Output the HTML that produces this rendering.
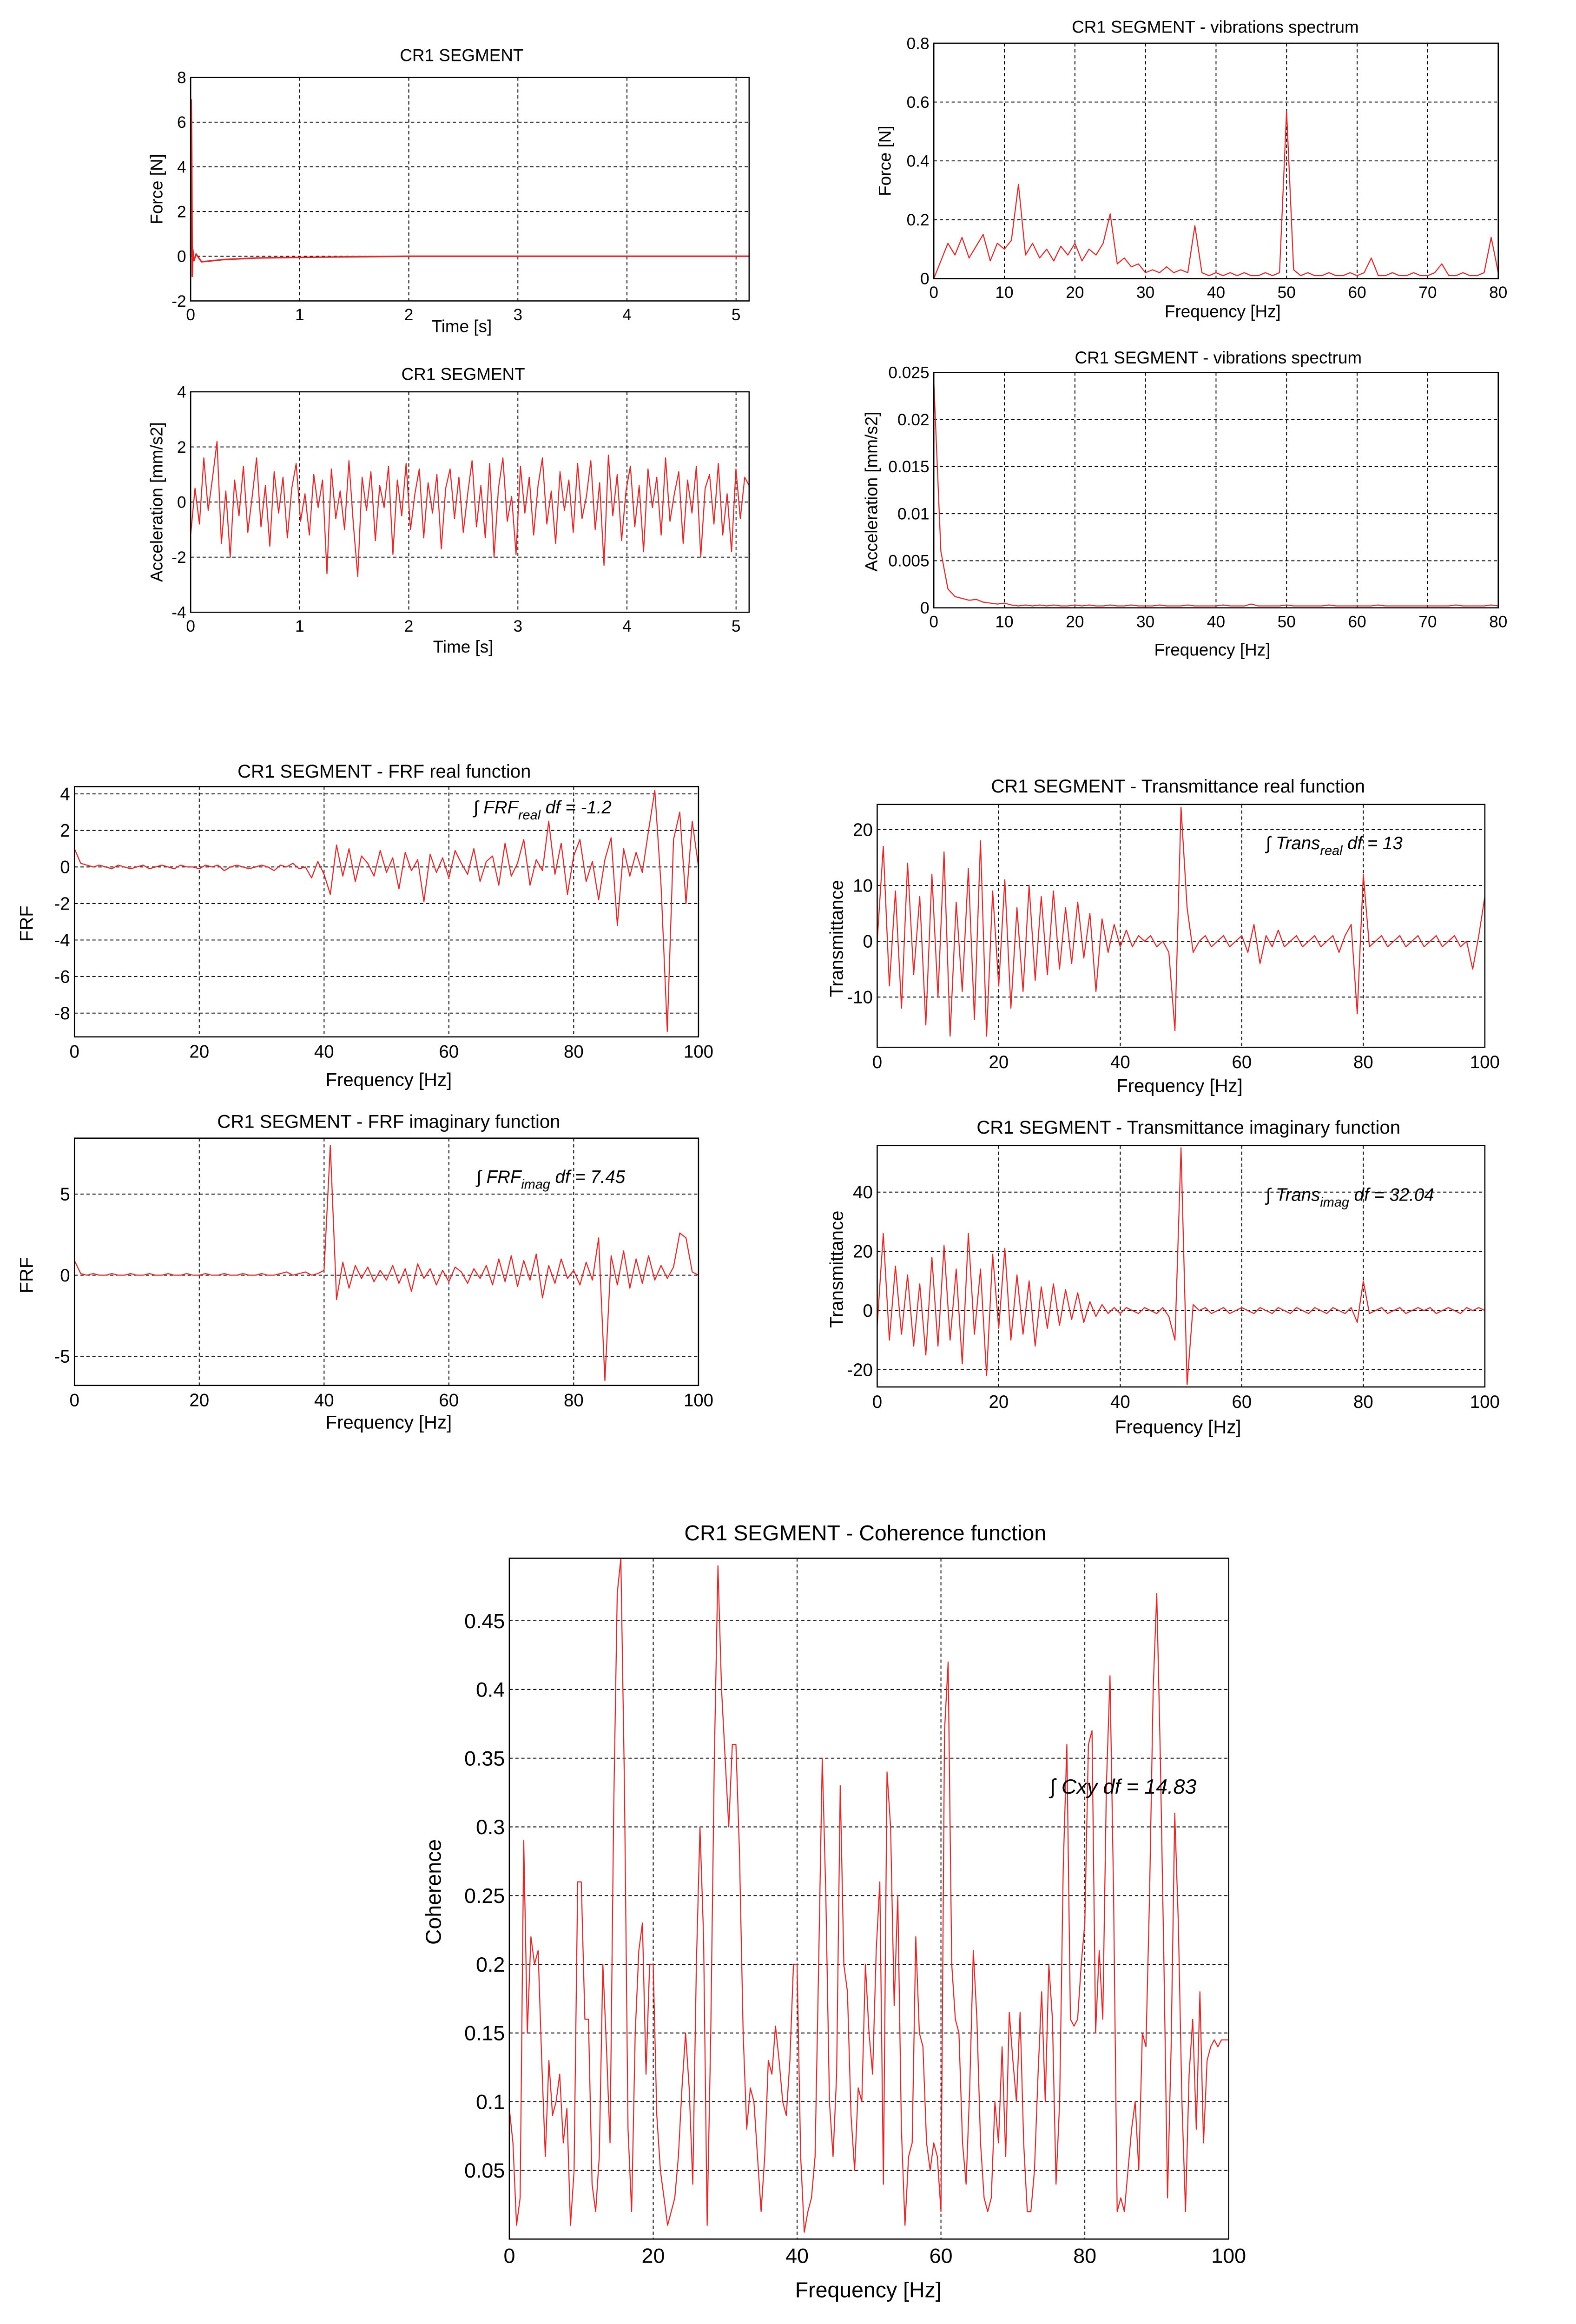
<!DOCTYPE html>
<html><head><meta charset="utf-8"><title>CR1 SEGMENT charts</title>
<style>
html,body{margin:0;padding:0;background:#fff;overflow:hidden;height:100vh;}
svg{display:block;position:absolute;left:0;top:0;height:100vh;width:calc(100vh * 3391 / 5167);}
text{font-family:"Liberation Sans",sans-serif;fill:#000;}
</style></head>
<body>
<svg id="fig" viewBox="0 0 1024 1560" preserveAspectRatio="none" xmlns="http://www.w3.org/2000/svg">
<rect x="0" y="0" width="1024" height="1560" fill="#fff"/>
</svg>
<script>
// ---- data ----
const forceT = [0,0.005,0.01,0.015,0.02,0.03,0.05,0.1,0.3,0.6,1,2,3,4,5.12];
const forceV = [0,7,4.8,-0.9,0.3,-0.2,0.1,-0.25,-0.15,-0.08,-0.05,0,0,0,0];
const accelV = [-1.2,0.5,-0.8,1.6,-0.3,0.9,2.2,-1.5,0.4,-2,0.8,-0.5,1.3,-1.1,0.2,1.6,-0.9,0.6,-1.6,1.1,-0.4,0.9,-1.3,0.5,1.4,-0.7,0.3,-1.2,1.0,-0.2,0.8,-2.6,1.2,-0.6,0.4,-1.0,1.5,-0.8,-2.7,0.9,-0.3,1.1,-1.4,0.6,-0.2,1.3,-1.9,0.8,-0.5,1.4,-1.0,0.3,1.2,-1.3,0.7,-0.4,1.0,-1.7,0.5,1.2,-0.6,0.9,-1.1,0.3,1.5,-0.9,0.6,-1.3,1.4,-2.0,0.5,1.6,-0.7,0.2,-1.9,1.3,-0.4,0.9,-1.2,0.6,1.6,-0.8,0.4,-1.5,1.1,-0.3,0.8,-1.1,1.4,-0.6,0.2,1.5,-1.0,0.7,-2.3,1.7,-0.5,1.0,-1.4,0.4,1.3,-0.9,0.6,-1.8,1.2,-0.2,0.9,-1.2,1.6,-0.7,0.3,1.1,-1.5,0.8,-0.4,1.3,-2.0,0.5,1.0,-0.8,1.4,-1.2,0.3,-1.8,1.2,-0.6,0.9,0.6];
const forceSpec = [0,0.06,0.12,0.08,0.14,0.07,0.11,0.15,0.06,0.12,0.1,
 0.13,0.32,0.08,0.12,0.07,0.1,0.06,0.11,0.08,0.12,
 0.06,0.1,0.08,0.12,0.22,0.05,0.07,0.04,0.05,0.02,
 0.03,0.02,0.04,0.02,0.03,0.02,0.18,0.02,0.01,0.02,
 0.01,0.02,0.01,0.02,0.01,0.01,0.02,0.01,0.02,0.57,
 0.03,0.01,0.02,0.01,0.01,0.02,0.01,0.01,0.02,0.01,
 0.02,0.07,0.01,0.01,0.02,0.01,0.01,0.02,0.01,0.01,
 0.02,0.05,0.01,0.01,0.02,0.01,0.01,0.02,0.14,0.02];
const accelSpec = [0.024,0.006,0.002,0.0012,0.001,0.0008,0.0009,0.0006,0.0005,0.0004,0.0005,
 0.0003,0.0002,0.0003,0.0002,0.0003,0.0002,0.0003,0.0002,0.0002,0.0003,
 0.0002,0.0003,0.0002,0.0002,0.0003,0.0002,0.0002,0.0003,0.0002,0.0002,
 0.0002,0.0003,0.0002,0.0002,0.0002,0.0003,0.0002,0.0002,0.0002,0.0002,
 0.0003,0.0002,0.0002,0.0002,0.0004,0.0002,0.0002,0.0002,0.0002,0.0003,
 0.0002,0.0002,0.0002,0.0002,0.0002,0.0003,0.0002,0.0002,0.0002,0.0002,
 0.0002,0.0002,0.0003,0.0002,0.0002,0.0002,0.0002,0.0002,0.0002,0.0002,
 0.0002,0.0002,0.0002,0.0003,0.0002,0.0002,0.0002,0.0002,0.0003,0.0002];
const frfReal = [1,0.2,0.1,0,0.1,0,-0.1,0.1,0,-0.1, 0,0.1,-0.1,0,0.1,0,-0.1,0.1,0,0, -0.1,0.1,0,0.1,-0.2,0,0.1,0,-0.1,0,
 0.1,0,-0.2,0.1,0,0.2,-0.1,0,-0.6,0.3, -0.4,-1.5,1.2,-0.5,1.0,-0.8,0.6,0.2,-0.5,0.9, -0.3,0.5,-1.2,0.8,-0.2,0.4,-1.9,0.7,-0.3,0.5,
 -0.6,0.9,0.2,-0.4,1.0,-0.8,0.3,0.6,-1.0,1.3, -0.5,0.2,1.5,-1.0,0.4,-0.2,2.5,-0.4,1.3,-1.5, 0.6,1.5,-0.8,0.3,-1.8,0.4,1.6,-3.2,1.0,-0.5,
 0.8,-0.3,2.0,4.2,-1.0,-9.0,1.5,3.0,-2.0,2.5, 0];
const frfImag = [0.9,0.1,0,0.1,0,0,0.1,0,0,0.1, 0,0,0.1,0,0,0.1,0,0,0.1,0, 0,0.1,0,0,0.1,0,0,0.1,0,0,
 0.1,0,0,0.1,0.2,0,0.1,0.2,0,0.1, 0.3,8.0,-1.5,0.8,-0.8,0.6,-0.2,0.5,-0.4,0.3, -0.3,0.6,-0.5,0.4,-1.0,0.7,-0.2,0.4,-0.6,0.3,
 -0.4,0.5,0.2,-0.5,0.4,-0.2,0.6,-0.6,1.0,-0.4, 1.2,-0.7,0.9,-0.3,1.3,-1.4,0.6,-0.5,1.0,-0.2, 0.3,-0.6,0.8,-0.3,2.3,-6.5,1.2,-0.6,1.5,-0.8,
 1.0,-0.5,1.2,-0.3,0.6,-0.2,0.5,2.6,2.3,0.2, 0];
const transReal = [0,17,-8,9,-12,14,-6,8,-15,12, -10,16,-17,7,-9,13,-14,18,-17,9, -8,11,-12,6,-9,10,-7,8,-6,9,
 -5,6,-4,7,-3,5,-9,4,-2,3, -1,2,-1,1,0,1,-1,0,-2,-16, 24,6,-2,0,1,-1,0,1,-1,0,
 1,-2,3,-4,1,-1,2,-1,0,1, -1,0,1,-1,0,1,-2,1,3,-13, 12,-1,0,1,-1,0,1,-1,0,1,
 -1,0,1,-1,0,1,-1,0,-5,1, 8];
const transImag = [-5,26,-10,15,-8,12,-12,9,-15,18, -12,22,-10,14,-18,26,-8,14,-22,19, -6,21,-10,12,-8,10,-12,8,-6,9,
 -5,7,-3,6,-4,3,-2,2,-1,1, -1,1,0,-1,1,0,-1,1,-2,-10, 55,-25,2,0,1,-1,0,1,-1,0,
 1,0,-1,1,0,-1,1,0,-1,1, 0,-1,1,0,-1,1,0,-1,1,-4, 10,-1,0,1,-1,0,1,-1,0,1,
 0,1,-1,0,1,0,-1,1,0,1, 0];
const coherence = [0.095,0.07,0.01,0.03,0.29,0.15,0.22,0.2,0.21,0.13,0.06,0.13,0.09,0.1,0.12,0.07,0.095,0.01,0.05,0.26,
 0.26,0.16,0.16,0.04,0.02,0.06,0.2,0.14,0.07,0.31,0.47,0.5,0.33,0.08,0.02,0.15,0.21,0.23,0.12,0.2,
 0.2,0.09,0.05,0.03,0.01,0.02,0.03,0.06,0.11,0.15,0.11,0.04,0.2,0.3,0.22,0.01,0.15,0.35,0.49,0.4,
 0.35,0.3,0.36,0.36,0.28,0.15,0.08,0.11,0.1,0.06,0.02,0.06,0.13,0.12,0.155,0.13,0.1,0.09,0.13,0.2,
 0.2,0.06,0.005,0.02,0.03,0.06,0.2,0.35,0.25,0.1,0.06,0.12,0.33,0.2,0.18,0.09,0.05,0.11,0.1,0.2,
 0.15,0.12,0.21,0.26,0.04,0.34,0.3,0.17,0.25,0.08,0.01,0.06,0.07,0.22,0.15,0.14,0.07,0.05,0.07,0.06,
 0.02,0.37,0.42,0.2,0.16,0.15,0.07,0.04,0.11,0.21,0.16,0.07,0.03,0.02,0.03,0.1,0.07,0.14,0.06,0.165,
 0.13,0.1,0.165,0.07,0.02,0.02,0.05,0.12,0.18,0.1,0.2,0.16,0.04,0.1,0.27,0.36,0.16,0.155,0.16,0.2,
 0.23,0.36,0.37,0.15,0.21,0.16,0.33,0.41,0.25,0.02,0.03,0.02,0.05,0.08,0.1,0.05,0.15,0.14,0.25,0.4,
 0.47,0.35,0.2,0.03,0.14,0.31,0.23,0.1,0.02,0.12,0.16,0.08,0.18,0.07,0.13,0.14,0.145,0.14,0.145,0.145,0.145];
const ticks05 = [0,1,2,3,4,5];
const ticksFreq80 = [0,10,20,30,40,50,60,70,80];
const ticksFreq100 = [0,20,40,60,80,100];

const NS = 'http://www.w3.org/2000/svg';
const fig = document.getElementById('fig');
function mk(tag, attrs, parent){
  const e = document.createElementNS(NS, tag);
  for (const k in attrs) e.setAttribute(k, attrs[k]);
  (parent||fig).appendChild(e);
  return e;
}
function fmt(v){ return String(Math.round(v*100000)/100000); }

function chart(c){
  const g = mk('g', {});
  
  
  const sx = v => c.x0 + (v - c.xmin)/(c.xmax - c.xmin)*(c.x1 - c.x0);
  const sy = v => c.y1 - (v - c.ymin)/(c.ymax - c.ymin)*(c.y1 - c.y0);
  const fs = c.fs || 11.5;
  c.xt.forEach(t => {
    const X = sx(t);
    if (X > c.x0+1 && X < c.x1-1){
      const l = mk('line', {x1:X, x2:X, y1:c.y0, y2:c.y1, stroke:'#000', 'stroke-width':0.6, 'stroke-dasharray':'2.2 1.8'}, g);
      
      
    }
    const tx = mk('text', {x:X, y:c.y1 + fs + 2, 'font-size':fs, 'text-anchor':'middle'}, g);
    tx.textContent = fmt(t);
    
    
  });
  c.yt.forEach(t => {
    const Y = sy(t);
    if (Y > c.y0+1 && Y < c.y1-1){
      const l = mk('line', {x1:c.x0, x2:c.x1, y1:Y, y2:Y, stroke:'#000', 'stroke-width':0.6, 'stroke-dasharray':'2.2 1.8'}, g);
      
      
    }
    const tx = mk('text', {x:c.x0 - 3, y:Y + fs*0.35, 'font-size':fs, 'text-anchor':'end'}, g);
    tx.textContent = fmt(t);
    
    
  });
  const pts = [];
  for (let i=0;i<c.ys.length;i++){
    const xv = c.xs ? c.xs[i] : c.xmin + i*(c.xmax - c.xmin)/(c.ys.length-1);
    let Y = sy(c.ys[i]);
    Y = Math.max(c.y0, Math.min(c.y1, Y));
    pts.push(sx(xv).toFixed(2)+','+Y.toFixed(2));
  }
  const pl = mk('polyline', {points:pts.join(' '), fill:'none', stroke:'#ee2222', 'stroke-width':c.sw||0.7, 'stroke-linejoin':'round'}, g);
  
  
  const fr = mk('rect', {x:c.x0, y:c.y0, width:c.x1-c.x0, height:c.y1-c.y0, fill:'none', stroke:'#000', 'stroke-width':0.8}, g);
  
  
  const ti = mk('text', {x:c.tx, y:c.ty, 'font-size':c.tfs||12, 'text-anchor':'middle'}, g);
  ti.textContent = c.title;
  
  
  const xl = mk('text', {x:c.xlx, y:c.xly, 'font-size':c.lfs||12, 'text-anchor':'middle'}, g);
  xl.textContent = c.xlabel;
  
  
  const yl = mk('text', {x:0, y:0, 'font-size':c.lfs||12, 'text-anchor':'middle', transform:'translate('+c.ylx+','+c.yly+') rotate(-90)'}, g);
  yl.textContent = c.ylabel;
  
  
  if (c.ann){
    const an = mk('text', {x:c.ann.x, y:c.ann.y, 'font-size':c.ann.fs||11.5, 'font-style':'italic'}, g);
    
    
    const a1 = mk('tspan', {}, an); a1.textContent = '∫ ' + c.ann.base;
    if (c.ann.sub){
      const a2 = mk('tspan', {'font-size':(c.ann.fs||11.5)*0.75, dy:4}, an); a2.textContent = c.ann.sub;
      const a3 = mk('tspan', {dy:-4}, an); a3.textContent = ' df = ' + c.ann.val;
    } else {
      const a3 = mk('tspan', {}, an); a3.textContent = ' df =  ' + c.ann.val;
    }
  }
}

chart({name:'force-time-chart', x0:128, x1:503, y0:52, y1:202, xmin:0, xmax:5.12, ymin:-2, ymax:8,
  xt:ticks05, yt:[-2,0,2,4,6,8], xs:forceT, ys:forceV, title:'CR1 SEGMENT', tx:310, ty:41,
  xlabel:'Time [s]', xlx:310, xly:223, ylabel:'Force [N]', ylx:109, yly:127, fs:11, tfs:11.5, lfs:11.5, sw:1});
chart({name:'acceleration-time-chart', x0:128, x1:503, y0:263, y1:411, xmin:0, xmax:5.12, ymin:-4, ymax:4,
  xt:ticks05, yt:[-4,-2,0,2,4], ys:accelV, title:'CR1 SEGMENT', tx:311, ty:255,
  xlabel:'Time [s]', xlx:311, xly:438, ylabel:'Acceleration [mm/s2]', ylx:109, yly:337, fs:11, tfs:11.5, lfs:11.5});
chart({name:'force-spectrum-chart', x0:627, x1:1006, y0:29, y1:187, xmin:0, xmax:80, ymin:0, ymax:0.8,
  xt:ticksFreq80, yt:[0,0.2,0.4,0.6,0.8], ys:forceSpec, title:'CR1 SEGMENT - vibrations spectrum', tx:816, ty:22,
  xlabel:'Frequency [Hz]', xlx:821, xly:213, ylabel:'Force [N]', ylx:598, yly:108, fs:11, tfs:11.5, lfs:11.5});
chart({name:'acceleration-spectrum-chart', x0:627, x1:1006, y0:250, y1:408, xmin:0, xmax:80, ymin:0, ymax:0.025,
  xt:ticksFreq80, yt:[0,0.005,0.01,0.015,0.02,0.025], ys:accelSpec, title:'CR1 SEGMENT - vibrations spectrum', tx:818, ty:244,
  xlabel:'Frequency [Hz]', xlx:814, xly:440, ylabel:'Acceleration [mm/s2]', ylx:589, yly:330, fs:11, tfs:11.5, lfs:11.5});
chart({name:'frf-real-chart', x0:50, x1:469, y0:528, y1:696, xmin:0, xmax:100, ymin:-9.3, ymax:4.4,
  xt:ticksFreq100, yt:[-8,-6,-4,-2,0,2,4], ys:frfReal, title:'CR1 SEGMENT - FRF real function', tx:258, ty:522,
  xlabel:'Frequency [Hz]', xlx:261, xly:729, ylabel:'FRF', ylx:22, yly:620, fs:12, tfs:12.5, lfs:12.5,
  ann:{x:318, y:546, base:'FRF', sub:'real', val:'-1.2', fs:12}});
chart({name:'frf-imaginary-chart', x0:50, x1:469, y0:764, y1:930, xmin:0, xmax:100, ymin:-6.8, ymax:8.45,
  xt:ticksFreq100, yt:[-5,0,5], ys:frfImag, title:'CR1 SEGMENT - FRF imaginary function', tx:261, ty:757,
  xlabel:'Frequency [Hz]', xlx:261, xly:959, ylabel:'FRF', ylx:22, yly:856, fs:12, tfs:12.5, lfs:12.5,
  ann:{x:320, y:794, base:'FRF', sub:'imag', val:'7.45', fs:12}});
chart({name:'transmittance-real-chart', x0:589, x1:997, y0:540, y1:703, xmin:0, xmax:100, ymin:-19, ymax:24.5,
  xt:ticksFreq100, yt:[-10,0,10,20], ys:transReal, title:'CR1 SEGMENT - Transmittance real function', tx:791, ty:532,
  xlabel:'Frequency [Hz]', xlx:792, xly:733, ylabel:'Transmittance', ylx:566, yly:630, fs:12, tfs:12.5, lfs:12.5,
  ann:{x:850, y:570, base:'Trans', sub:'real', val:'13', fs:12}});
chart({name:'transmittance-imaginary-chart', x0:589, x1:997, y0:769, y1:931, xmin:0, xmax:100, ymin:-25.8, ymax:55.7,
  xt:ticksFreq100, yt:[-20,0,20,40], ys:transImag, title:'CR1 SEGMENT - Transmittance imaginary function', tx:798, ty:761,
  xlabel:'Frequency [Hz]', xlx:791, xly:962, ylabel:'Transmittance', ylx:566, yly:852, fs:12, tfs:12.5, lfs:12.5,
  ann:{x:850, y:806, base:'Trans', sub:'imag', val:'32.04', fs:12}});
chart({name:'coherence-chart', x0:342, x1:825, y0:1046, y1:1503, xmin:0, xmax:100, ymin:0, ymax:0.4955,
  xt:ticksFreq100, yt:[0.05,0.1,0.15,0.2,0.25,0.3,0.35,0.4,0.45], ys:coherence, title:'CR1 SEGMENT - Coherence function', tx:581, ty:1034,
  xlabel:'Frequency [Hz]', xlx:583, xly:1542, ylabel:'Coherence', ylx:296, yly:1270, fs:14, tfs:14.5, lfs:14.5,
  ann:{x:705, y:1204, base:'Cxy', val:'14.83', fs:14}});
</script>
</body></html>
